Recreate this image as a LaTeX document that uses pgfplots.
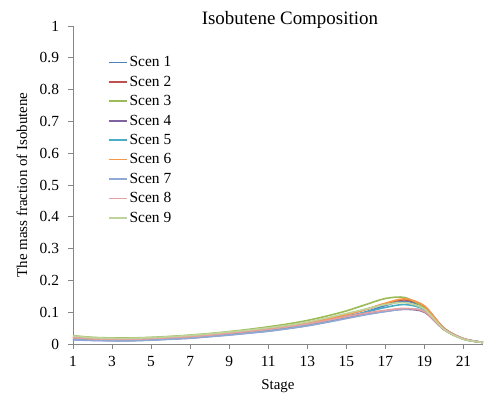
\documentclass[border=0pt]{standalone}
\usepackage{pgfplots}
\pgfplotsset{compat=1.18}
\usepackage{pgfplotstable}
\usepackage{fontspec}
\setmainfont{Liberation Serif}
\definecolor{c1}{HTML}{4F81BD}
\definecolor{c2}{HTML}{C0504D}
\definecolor{c3}{HTML}{9BBB59}
\definecolor{c4}{HTML}{8064A2}
\definecolor{c5}{HTML}{4BACC6}
\definecolor{c6}{HTML}{F79646}
\definecolor{c7}{HTML}{8EA9D4}
\definecolor{c8}{HTML}{E6A0A2}
\definecolor{c9}{HTML}{BFD49A}
\definecolor{axgray}{HTML}{868686}
\pgfplotstableread{
x  s1    s2    s3    s4    s5    s6    s7    s8    s9
1  0.016 0.021 0.026 0.014 0.015 0.020 0.013 0.020 0.025
2  0.013 0.017 0.021 0.012 0.013 0.016 0.011 0.016 0.020
3  0.012 0.016 0.019 0.011 0.012 0.015 0.010 0.015 0.018
4  0.012 0.016 0.019 0.011 0.012 0.015 0.010 0.015 0.018
5  0.014 0.018 0.021 0.013 0.014 0.017 0.012 0.017 0.020
6  0.017 0.021 0.024 0.016 0.017 0.020 0.015 0.020 0.023
7  0.020 0.024 0.028 0.019 0.020 0.023 0.018 0.023 0.027
8  0.025 0.029 0.033 0.024 0.025 0.028 0.023 0.028 0.032
9  0.031 0.035 0.039 0.029 0.031 0.034 0.028 0.034 0.038
10 0.037 0.041 0.046 0.035 0.037 0.040 0.034 0.040 0.044
11 0.043 0.048 0.054 0.041 0.043 0.047 0.040 0.046 0.051
12 0.052 0.057 0.063 0.049 0.051 0.056 0.048 0.054 0.059
13 0.062 0.067 0.074 0.058 0.061 0.066 0.057 0.063 0.069
14 0.074 0.079 0.088 0.070 0.073 0.078 0.068 0.074 0.082
15 0.086 0.093 0.104 0.083 0.086 0.092 0.080 0.086 0.096
16 0.101 0.109 0.124 0.094 0.100 0.108 0.092 0.097 0.110
17 0.121 0.127 0.143 0.103 0.115 0.128 0.102 0.106 0.124
18 0.135 0.139 0.146 0.109 0.124 0.142 0.110 0.112 0.130
19 0.114 0.118 0.113 0.100 0.108 0.120 0.104 0.102 0.110
20 0.048 0.050 0.046 0.045 0.047 0.050 0.047 0.046 0.046
21 0.016 0.017 0.015 0.016 0.016 0.017 0.016 0.016 0.015
22 0.005 0.005 0.005 0.005 0.005 0.005 0.005 0.005 0.005
}\datatable
\begin{document}
\begin{tikzpicture}
\useasboundingbox (-73bp,-53bp) rectangle (411bp,344bp);
\begin{axis}[
  at={(0,0)}, anchor=south west,
  scale only axis, width=410bp, height=318bp,
  xmin=1, xmax=22, ymin=0, ymax=1,
  axis x line=bottom, axis y line=left,
  axis line style={draw=axgray, line width=0.8bp, -},
  xtick={1,3,...,21},
  ytick={0,0.1,...,1},
  tick style={draw=axgray, line width=0.8bp},
  tick align=outside, major tick length=4.5bp,
  /pgf/number format/assume math mode=true,
  yticklabel style={/pgf/number format/fixed, xshift=-6bp},
  xticklabel style={yshift=-4bp},
  ticklabel style={font=\fontsize{15.5}{17}\selectfont},
  xlabel={Stage},
  ylabel={The mass fraction of Isobutene},
  xlabel style={font=\fontsize{15}{17}\selectfont, at={(axis description cs:0.5,0)}, anchor=center, yshift=-42bp},
  ylabel style={font=\fontsize{15}{17}\selectfont, at={(axis description cs:-0.1244,0.5)}, anchor=center},
  legend style={draw=none, fill=none, at={(rel axis cs:0.085,0.911)}, anchor=north west,
    font=\fontsize{15.5}{17}\selectfont, row sep=3.75bp, inner sep=0pt},
  legend cell align=left,
  legend image code/.code={\draw[#1, line width=1.6bp] (0bp,0bp) -- (18bp,0bp);},
  every axis plot/.append style={line width=1.6bp, smooth, tension=0.5, no markers},
  clip=false,
]
\addplot[c1] table[x=x,y=s1]{\datatable};
\addplot[c2] table[x=x,y=s2]{\datatable};
\addplot[c3] table[x=x,y=s3]{\datatable};
\addplot[c4] table[x=x,y=s4]{\datatable};
\addplot[c5] table[x=x,y=s5]{\datatable};
\addplot[c6] table[x=x,y=s6]{\datatable};
\addplot[c7] table[x=x,y=s7]{\datatable};
\addplot[c8] table[x=x,y=s8]{\datatable};
\addplot[c9] table[x=x,y=s9]{\datatable};
\legend{Scen 1,Scen 2,Scen 3,Scen 4,Scen 5,Scen 6,Scen 7,Scen 8,Scen 9}
\node[font=\fontsize{19}{21}\selectfont, anchor=center] at (rel axis cs:0.529,1.018) {Isobutene Composition};
\end{axis}
\end{tikzpicture}
\end{document}
